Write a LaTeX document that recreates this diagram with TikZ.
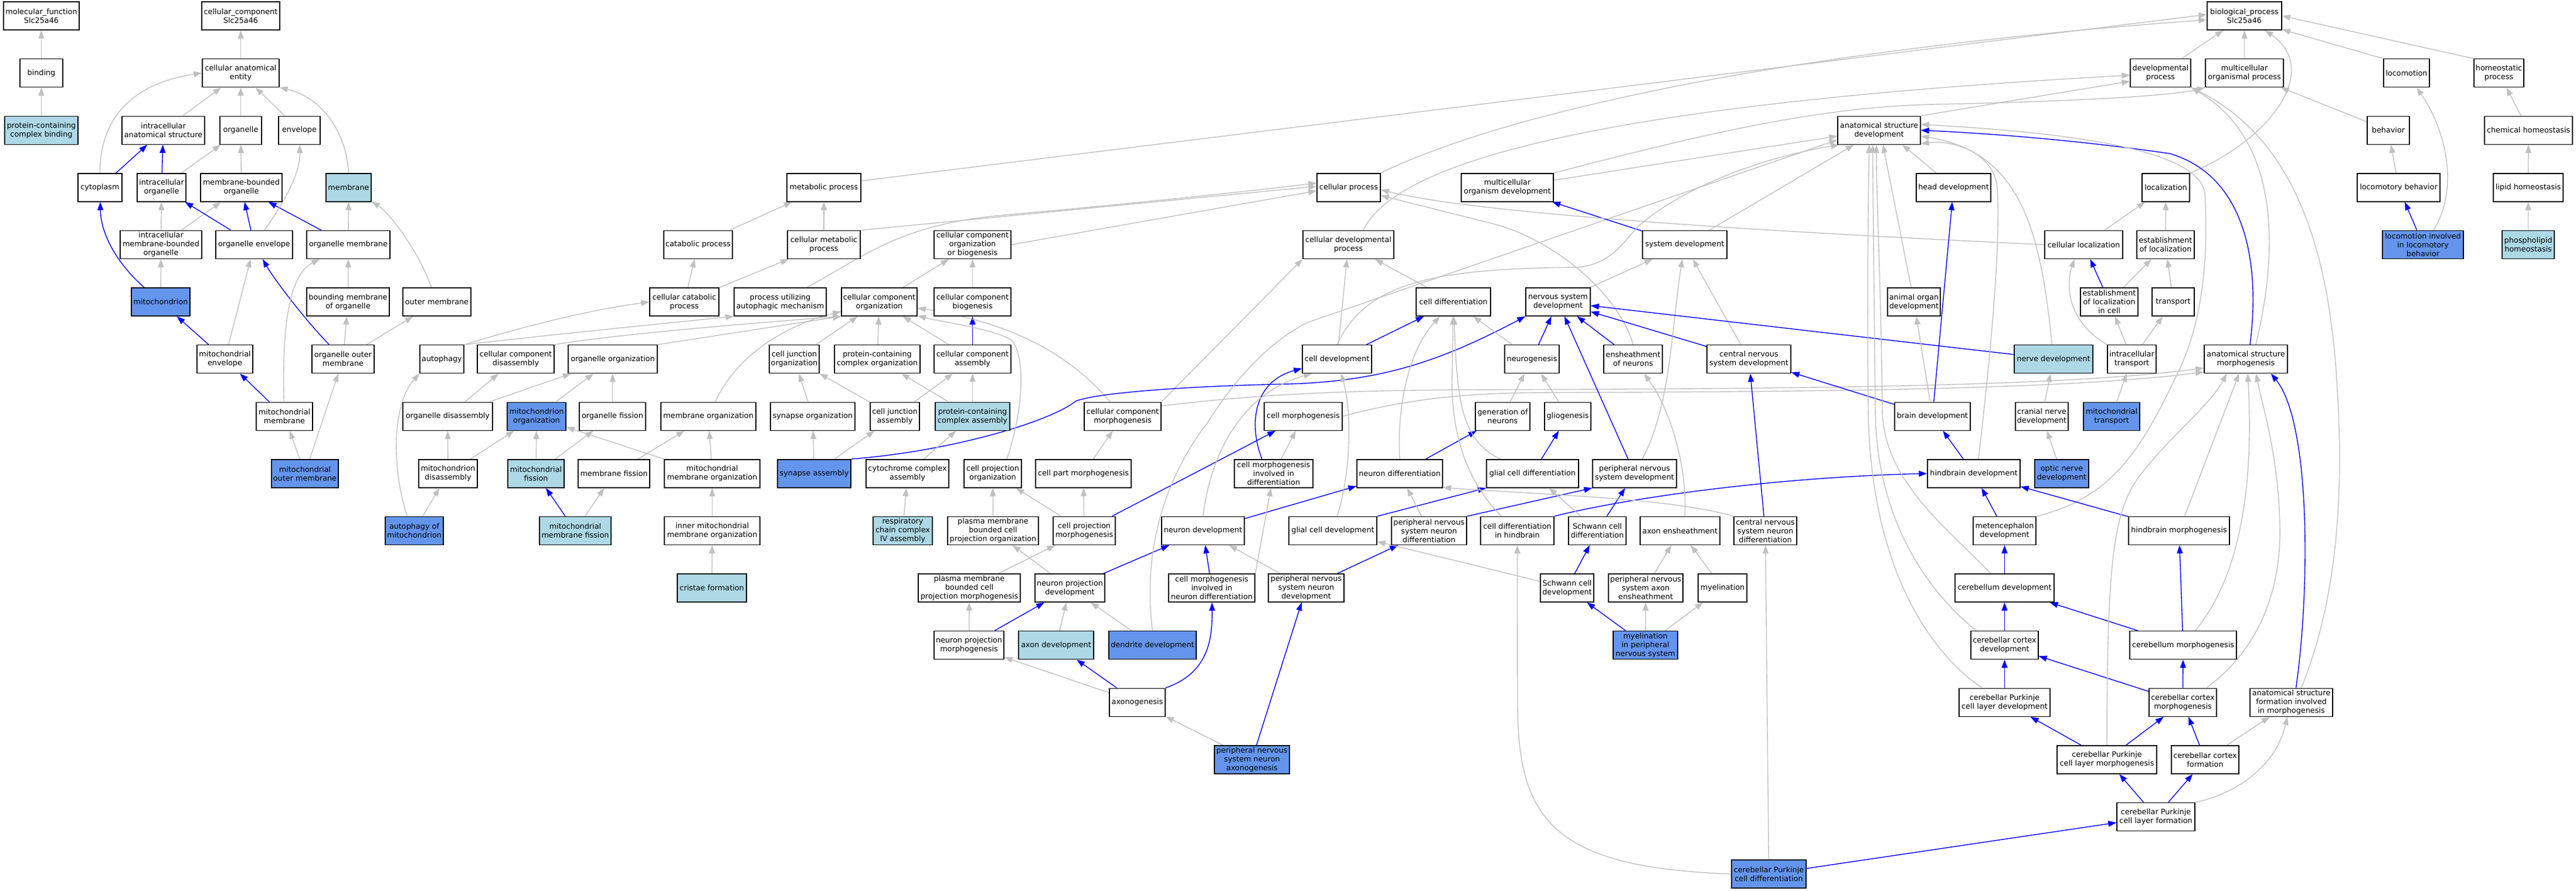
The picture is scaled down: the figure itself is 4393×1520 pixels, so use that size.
\documentclass[tikz,border=0pt]{standalone}
\usepackage{fontspec}
\setmainfont{DejaVu Sans}
\usetikzlibrary{arrows.meta,calc}
\definecolor{LB}{HTML}{ADD8E6}
\definecolor{CB}{HTML}{6495ED}
\definecolor{EG}{HTML}{C0C0C0}
\definecolor{EB}{HTML}{0000FF}
\newcommand{\gofont}{\fontsize{12.8}{15}\selectfont}
\pgfdeclarelayer{back}
\pgfdeclarelayer{edges}
\pgfsetlayers{back,edges,main}
\tikzset{
  box/.style={draw=black, line width=1.4pt, fill=white, minimum height=48pt, inner xsep=2pt, inner ysep=1pt, align=center, font=\gofont},
  lb/.style={fill=LB},
  cb/.style={fill=CB},
  ge/.style={draw=EG, line width=1.4pt, -{Triangle[length=14pt,width=10pt]}},
  be/.style={draw=EB, line width=1.4pt, -{Triangle[length=14pt,width=10pt]}}
}
\begin{document}
\begin{tikzpicture}[x=1pt,y=-1pt]
\useasboundingbox (0,0) rectangle (4393,1520);
\begin{pgfonlayer}{back}
\fill[white] (0,0) rectangle (4393,1520);
\end{pgfonlayer}
% row 0
\node[box,minimum width=129] (mf) at (70.5,27) {molecular\_function\\Slc25a46};
\node[box,minimum width=133] (cc) at (410.5,27) {cellular\_component\\Slc25a46};
\node[box,minimum width=127] (bp) at (3827.5,27) {biological\_process\\Slc25a46};
% row 1
\node[box,minimum width=73] (bind) at (70.5,124.6) {binding};
\node[box,minimum width=131] (cae) at (410.5,124.6) {cellular anatomical\\entity};
\node[box,minimum width=103] (devp) at (3684.5,124.6) {developmental\\process};
\node[box,minimum width=133] (mop) at (3827.5,124.6) {multicellular\\organismal process};
\node[box,minimum width=78] (loco) at (4104,124.6) {locomotion};
\node[box,minimum width=85] (homp) at (4261.5,124.6) {homeostatic\\process};
% row 2
\node[box,lb,minimum width=125] (pccb) at (70.5,222.2) {protein-containing\\complex binding};
\node[box,minimum width=141] (ias) at (278.5,222.2) {intracellular\\anatomical structure};
\node[box,minimum width=71] (org) at (410.5,222.2) {organelle};
\node[box,minimum width=71] (env) at (510.5,222.2) {envelope};
\node[box,minimum width=141] (asd) at (3204.5,222.2) {anatomical structure\\development};
\node[box,minimum width=72] (beh) at (4073,222.2) {behavior};
\node[box,minimum width=150] (chh) at (4312,222.2) {chemical homeostasis};
% row 3
\node[box,minimum width=75] (cyto) at (170.5,319.8) {cytoplasm};
\node[box,minimum width=83] (io) at (275.5,319.8) {intracellular\\organelle};
\node[box,minimum width=139] (mbo) at (411.5,319.8) {membrane-bounded\\organelle};
\node[box,lb,minimum width=77] (mem) at (594.5,319.8) {membrane};
\node[box,minimum width=126] (metp) at (1405,319.8) {metabolic process};
\node[box,minimum width=108] (cp) at (2300,319.8) {cellular process};
\node[box,minimum width=157] (mod) at (2570.5,319.8) {multicellular\\organism development};
\node[box,minimum width=127] (headd) at (3331.5,319.8) {head development};
\node[box,minimum width=81] (loc) at (3693.5,319.8) {localization};
\node[box,minimum width=141] (locb) at (4090.5,319.8) {locomotory behavior};
\node[box,minimum width=119] (liph) at (4311.5,319.8) {lipid homeostasis};
% row 4
\node[box,minimum width=139] (imbo) at (274.5,417.4) {intracellular\\membrane-bounded\\organelle};
\node[box,minimum width=131] (oenv) at (433.5,417.4) {organelle envelope};
\node[box,minimum width=142] (omem) at (594,417.4) {organelle membrane};
\node[box,minimum width=117] (catp) at (1190.5,417.4) {catabolic process};
\node[box,minimum width=124] (cmp) at (1405,417.4) {cellular metabolic\\process};
\node[box,minimum width=131] (ccob) at (1658.5,417.4) {cellular component\\organization\\or biogenesis};
\node[box,minimum width=155] (cdp) at (2299.5,417.4) {cellular developmental\\process};
\node[box,minimum width=144] (sysd) at (2873,417.4) {system development};
\node[box,minimum width=133] (cloc) at (3553.5,417.4) {cellular localization};
\node[box,minimum width=98] (eol) at (3693,417.4) {establishment\\of localization};
\node[box,cb,minimum width=138] (lilb) at (4132,417.4) {locomotion involved\\in locomotory\\behavior};
\node[box,lb,minimum width=89] (phh) at (4311.5,417.4) {phospholipid\\homeostasis};
% row 5
\node[box,cb,minimum width=100] (mito) at (274,515) {mitochondrion};
\node[box,minimum width=141] (bmo) at (593.5,515) {bounding membrane\\of organelle};
\node[box,minimum width=116] (outm) at (745,515) {outer membrane};
\node[box,minimum width=118] (ccp) at (1167,515) {cellular catabolic\\process};
\node[box,minimum width=157] (puam) at (1330.5,515) {process utilizing\\autophagic mechanism};
\node[box,minimum width=129] (cco) at (1499.5,515) {cellular component\\organization};
\node[box,minimum width=131] (ccb) at (1658.5,515) {cellular component\\biogenesis};
\node[box,minimum width=127] (cd) at (2478.5,515) {cell differentiation};
\node[box,minimum width=110] (nsd) at (2657,515) {nervous system\\development};
\node[box,minimum width=90] (aod) at (3264,515) {animal organ\\development};
\node[box,minimum width=98] (eolc) at (3597,515) {establishment\\of localization\\in cell};
\node[box,minimum width=72] (trans) at (3706,515) {transport};
% row 6
\node[box,minimum width=95] (menv) at (383.5,612.6) {mitochondrial\\envelope};
\node[box,minimum width=106] (oom) at (585,612.6) {organelle outer\\membrane};
\node[box,minimum width=75] (auto) at (753.5,612.6) {autophagy};
\node[box,minimum width=131] (ccd) at (879.5,612.6) {cellular component\\disassembly};
\node[box,minimum width=152] (oorg) at (1045,612.6) {organelle organization};
\node[box,minimum width=85] (cjo) at (1354.5,612.6) {cell junction\\organization};
\node[box,minimum width=146] (pcco) at (1496,612.6) {protein-containing\\complex organization};
\node[box,minimum width=131] (cca) at (1658.5,612.6) {cellular component\\assembly};
\node[box,minimum width=118] (celldev) at (2280,612.6) {cell development};
\node[box,minimum width=93] (neug) at (2612.5,612.6) {neurogenesis};
\node[box,minimum width=100] (eon) at (2785,612.6) {ensheathment\\of neurons};
\node[box,minimum width=143] (cnsd) at (2982.5,612.6) {central nervous\\system development};
\node[box,lb,minimum width=134] (nerved) at (3502,612.6) {nerve development};
\node[box,minimum width=83] (itr) at (3635.5,612.6) {intracellular\\transport};
\node[box,minimum width=142] (asm) at (3830,612.6) {anatomical structure\\morphogenesis};
% row 7
\node[box,minimum width=96] (mmem) at (485,710.2) {mitochondrial\\membrane};
\node[box,minimum width=153] (odis) at (763.5,710.2) {organelle disassembly};
\node[box,cb,minimum width=100] (morg) at (915,710.2) {mitochondrion\\organization};
\node[box,minimum width=113] (ofis) at (1044.5,710.2) {organelle fission};
\node[box,minimum width=162] (memo) at (1208,710.2) {membrane organization};
\node[box,minimum width=144] (syno) at (1386,710.2) {synapse organization};
\node[box,minimum width=84] (cja) at (1526,710.2) {cell junction\\assembly};
\node[box,lb,minimum width=127] (pcca) at (1658.5,710.2) {protein-containing\\complex assembly};
\node[box,minimum width=131] (ccm) at (1914.5,710.2) {cellular component\\morphogenesis};
\node[box,minimum width=133] (cm) at (2222.5,710.2) {cell morphogenesis};
\node[box,minimum width=93] (gon) at (2562.5,710.2) {generation of\\neurons};
\node[box,minimum width=79] (glio) at (2673.5,710.2) {gliogenesis};
\node[box,minimum width=129] (brd) at (3295.5,710.2) {brain development};
\node[box,minimum width=90] (cnd) at (3482,710.2) {cranial nerve\\development};
\node[box,cb,minimum width=96] (mtr) at (3601,710.2) {mitochondrial\\transport};
% row 8
\node[box,cb,minimum width=114] (mom) at (520,807.8) {mitochondrial\\outer membrane};
\node[box,minimum width=100] (mdis) at (764,807.8) {mitochondrion\\disassembly};
\node[box,lb,minimum width=96] (mfis) at (914,807.8) {mitochondrial\\fission};
\node[box,minimum width=122] (memf) at (1047,807.8) {membrane fission};
\node[box,minimum width=163] (mmo) at (1214.5,807.8) {mitochondrial\\membrane organization};
\node[box,cb,minimum width=125] (syna) at (1388.5,807.8) {synapse assembly};
\node[box,minimum width=141] (cyca) at (1547.5,807.8) {cytochrome complex\\assembly};
\node[box,minimum width=98] (cpo) at (1693,807.8) {cell projection\\organization};
\node[box,minimum width=163] (cpm) at (1847.5,807.8) {cell part morphogenesis};
\node[box,minimum width=134] (cmid) at (2172,807.8) {cell morphogenesis\\involved in\\differentiation};
\node[box,minimum width=146] (ndiff) at (2387,807.8) {neuron differentiation};
\node[box,minimum width=157] (gcd) at (2613.5,807.8) {glial cell differentiation};
\node[box,minimum width=143] (pnsd) at (2787.5,807.8) {peripheral nervous\\system development};
\node[box,minimum width=158] (hbd) at (3366,807.8) {hindbrain development};
\node[box,cb,minimum width=92] (ond) at (3516,807.8) {optic nerve\\development};
% row 9
\node[box,cb,minimum width=99] (aom) at (706.5,905.4) {autophagy of\\mitochondrion};
\node[box,lb,minimum width=122] (mmf) at (981,905.4) {mitochondrial\\membrane fission};
\node[box,minimum width=163] (immo) at (1214.5,905.4) {inner mitochondrial\\membrane organization};
\node[box,lb,minimum width=101] (rcc) at (1539.5,905.4) {respiratory\\chain complex\\IV assembly};
\node[box,minimum width=155] (pmbcpo) at (1693.5,905.4) {plasma membrane\\bounded cell\\projection organization};
\node[box,minimum width=106] (cprm) at (1849,905.4) {cell projection\\morphogenesis};
\node[box,minimum width=141] (nd) at (2051.5,905.4) {neuron development};
\node[box,minimum width=150] (gcdev) at (2273,905.4) {glial cell development};
\node[box,minimum width=128] (pnsndiff) at (2437,905.4) {peripheral nervous\\system neuron\\differentiation};
\node[box,minimum width=125] (cdh) at (2587.5,905.4) {cell differentiation\\in hindbrain};
\node[box,minimum width=98] (scd) at (2724,905.4) {Schwann cell\\differentiation};
\node[box,minimum width=136] (axe) at (2865,905.4) {axon ensheathment};
\node[box,minimum width=107] (cnsnd) at (3010.5,905.4) {central nervous\\system neuron\\differentiation};
\node[box,minimum width=107] (metd) at (3418.5,905.4) {metencephalon\\development};
\node[box,minimum width=172] (hbm) at (3716,905.4) {hindbrain morphogenesis};
% row 10
\node[box,lb,minimum width=118] (crf) at (1214,1003) {cristae formation};
\node[box,minimum width=174] (pmbcpm) at (1653,1003) {plasma membrane\\bounded cell\\projection morphogenesis};
\node[box,minimum width=119] (npd) at (1824.5,1003) {neuron projection\\development};
\node[box,minimum width=147] (cmind) at (2066.5,1003) {cell morphogenesis\\involved in\\neuron differentiation};
\node[box,minimum width=129] (pnsnd) at (2227.5,1003) {peripheral nervous\\system neuron\\development};
\node[box,minimum width=91] (scdev) at (2672.5,1003) {Schwann cell\\development};
\node[box,minimum width=127] (pnsae) at (2806.5,1003) {peripheral nervous\\system axon\\ensheathment};
\node[box,minimum width=83] (myel) at (2937.5,1003) {myelination};
\node[box,minimum width=169] (cbd) at (3418.5,1003) {cerebellum development};
% row 11
\node[box,minimum width=119] (npm) at (1652.5,1100.6) {neuron projection\\morphogenesis};
\node[box,lb,minimum width=128] (axd) at (1801,1100.6) {axon development};
\node[box,cb,minimum width=149] (dd) at (1965.5,1100.6) {dendrite development};
\node[box,cb,minimum width=110] (mpns) at (2806,1100.6) {myelination\\in peripheral\\nervous system};
\node[box,minimum width=115] (ccxd) at (3418.5,1100.6) {cerebellar cortex\\development};
\node[box,minimum width=182] (cbm) at (3723,1100.6) {cerebellum morphogenesis};
% row 12
\node[box,minimum width=95] (axg) at (1939.5,1198.2) {axonogenesis};
\node[box,minimum width=155] (cpld) at (3418.5,1198.2) {cerebellar Purkinje\\cell layer development};
\node[box,minimum width=115] (ccxm) at (3722.5,1198.2) {cerebellar cortex\\morphogenesis};
\node[box,minimum width=141] (asfim) at (3907.5,1198.2) {anatomical structure\\formation involved\\in morphogenesis};
% row 13
\node[box,cb,minimum width=128] (pnsax) at (2135,1295.8) {peripheral nervous\\system neuron\\axonogenesis};
\node[box,minimum width=170] (cplm) at (3593,1295.8) {cerebellar Purkinje\\cell layer morphogenesis};
\node[box,minimum width=115] (ccxf) at (3760.5,1295.8) {cerebellar cortex\\formation};
% row 14
\node[box,minimum width=133] (cplf) at (3676.5,1393.4) {cerebellar Purkinje\\cell layer formation};
% row 15
\node[box,cb,minimum width=127] (cpcd) at (3016.5,1491) {cerebellar Purkinje\\cell differentiation};

\begin{pgfonlayer}{edges}
% ---------- cellular component ----------
\draw[ge] (bind) -- (mf);
\draw[ge] (pccb) -- (bind);
\draw[ge] (cae) -- (cc);
\draw[ge] (ias) -- (cae);
\draw[ge] (org) -- (cae);
\draw[ge] (env) -- (cae);
\draw[ge] (mem.north) .. controls (590,220) and (545,165) .. (cae.south east);
\draw[ge] (cyto.north) .. controls (170,190) and (240,140) .. (cae.west);
\draw[be] (cyto) -- (ias);
\draw[be] (io) -- (ias);
\draw[ge] (io) -- (org);
\draw[ge] (mbo) -- (org);
\draw[ge] (imbo) -- (io);
\draw[ge] (imbo) -- (mbo);
\draw[be] (oenv) -- (io);
\draw[be] (oenv) -- (mbo);
\draw[be] (omem) -- (mbo);
\draw[ge] (oenv) .. controls (495,330) and (512,290) .. (env);
\draw[ge] (omem) -- (mem);
\draw[ge] (outm) .. controls (710,420) and (660,360) .. (mem);
\draw[be] (mito) .. controls (200,450) and (172,400) .. (cyto);
\draw[ge] (mito) -- (imbo);
\draw[ge] (bmo) -- (omem);
\draw[be] (menv) -- (mito);
\draw[ge] (menv) -- (oenv);
\draw[be] (oom) .. controls (520,545) and (470,480) .. (oenv);
\draw[ge] (oom) -- (bmo);
\draw[ge] (oom) -- (outm);
\draw[be] (mmem) -- (menv);
\draw[ge] (mmem) .. controls (480,530) and (500,465) .. (omem);
\draw[ge] (mom) -- (mmem);
\draw[ge] (mom) -- (oom);
\draw[ge] (auto.north east) .. controls (900,555) and (1000,530) .. (ccp.west);
\draw[ge] (auto.north east) .. controls (950,570) and (1150,550) .. (puam.south west);
\draw[ge] (ccd.north east) .. controls (1050,570) and (1300,550) .. (cco.south west);
\draw[ge] (oorg.north east) -- (cco.south west);
\draw[ge] (odis) -- (ccd);
\draw[ge] (odis) -- (oorg);
\draw[ge] (morg) -- (oorg);
\draw[ge] (ofis) -- (oorg);
\draw[ge] ($(aom.north)+(-12,0)$) .. controls (668,800) and (668,690) .. (auto.south west);
\draw[ge] (aom) -- (mdis);
\draw[ge] (mdis) -- (odis);
\draw[ge] (mdis) -- (morg);
\draw[ge] (mfis) -- (morg);
\draw[ge] (mfis) -- (ofis);
\draw[ge] (memf) -- (memo);
\draw[be] (mmf) -- (mfis);
\draw[ge] (mmf) -- (memf);
\draw[ge] (mmo.north west) -- (morg.-20);
\draw[ge] (mmo) -- (memo);
\draw[ge] (immo) -- (mmo);
\draw[ge] (crf) -- (immo);
% ---------- biological process, left ----------
\draw[ge] (metp.10) -- (bp.178);
\draw[ge] (catp) -- (metp);
\draw[ge] (cmp) -- (metp);
\draw[ge] (cmp.north east) -- (cp.178);
\draw[ge] (ccp) -- (catp);
\draw[ge] (ccp) -- (cmp);
\draw[ge] (puam) .. controls (1470,440) and (1530,385) .. (1700,368) .. controls (1900,350) and (2100,330) .. (cp.172);
\draw[ge] (ccob.east) -- (cp.186);
\draw[ge] (cco) -- (ccob);
\draw[ge] (ccb) -- (ccob);
\draw[ge] (cjo) -- (cco);
\draw[ge] (pcco) -- (cco);
\draw[ge] (cca) -- (cco);
\draw[be] (cca) -- (ccb);
\draw[ge] (memo) .. controls (1250,620) and (1320,560) .. (cco);
\draw[ge] (syno) -- (cjo);
\draw[ge] (cja) -- (cjo);
\draw[ge] (cja) -- (cca);
\draw[ge] (pcca) -- (pcco);
\draw[ge] (pcca) -- (cca);
\draw[ge] (ccm) .. controls (1820,600) and (1720,550) .. (cco);
\draw[ge] (ccm.north east) -- (cdp.south west);
\draw[ge] (ccm.15) .. controls (2150,672) and (2300,666) .. (2500,665) .. controls (3000,663) and (3500,662) .. (asm.192);
\draw[ge] (cm.east) .. controls (2400,680) and (2500,672) .. (2600,670) .. controls (3000,668) and (3500,668) .. (asm.197);
\draw[ge] (syna) -- (syno);
\draw[ge] (syna) -- (cja);
\draw[be] (syna.north east) .. controls (1620,770) and (1790,720) .. (1835,684) .. controls (1880,668) and (2050,658) .. (2200,655) .. controls (2350,650) and (2450,620) .. (nsd.south west);
\draw[ge] (cyca) -- (pcca);
\draw[ge] ($(cpo.north)+(24,0)$) .. controls (1745,700) and (1750,610) .. (1725,580) .. controls (1690,560) and (1610,550) .. (cco.-20);
\draw[ge] (cpm) -- (ccm);
\draw[be] ($(cmid.north)+(-20,0)$) .. controls (2128,720) and (2140,650) .. (celldev.195);
\draw[ge] (cmid) -- (cm);
\draw[ge] (rcc) -- (cyca);
\draw[ge] (pmbcpo) -- (cpo);
\draw[ge] (cprm) -- (cpo);
\draw[ge] (cprm) -- (cpm);
\draw[be] (cprm) -- (cm);
\draw[be] (nd) -- (ndiff);
\draw[ge] (nd.north) .. controls (2065,770) and (2120,670) .. (celldev.210);
\draw[ge] (pmbcpm) -- (cprm);
\draw[ge] (npd) -- (pmbcpo);
\draw[be] (npd) -- (nd);
\draw[be] (cmind) -- (nd);
\draw[ge] (cmind.north east) -- (cmid);
\draw[ge] (pnsnd) -- (nd);
\draw[be] (pnsnd) -- (pnsndiff);
\draw[ge] (npm) -- (pmbcpm);
\draw[be] (npm) -- (npd);
\draw[ge] (axd) -- (npd);
\draw[ge] (dd) -- (npd);
\draw[ge] (dd.north) .. controls (1950,960) and (1975,830) .. (2060,720) .. controls (2110,640) and (2170,580) .. (2230,550) -- (asd.193);
\draw[be] (axg) -- (axd);
\draw[ge] (axg) -- (npm);
\draw[be] (axg.north east) .. controls (2055,1150) and (2068,1100) .. (cmind);
\draw[ge] (pnsax) -- (axg);
\draw[be] (pnsax) -- (pnsnd);
% ---------- biological process, middle ----------
\draw[ge] (cp.north east) .. controls (2550,200) and (3000,90) .. (bp.186);
\draw[ge] (mod) -- (asd.188);
\draw[ge] (mod.north east) .. controls (2900,230) and (3100,182) .. (3300,178) .. controls (3500,174) and (3700,165) .. (mop.south west);
\draw[ge] ($(cdp.north)+(25,0)$) .. controls (2380,280) and (2700,180) .. (devp.184);
\draw[ge] (sysd) -- (asd.-150);
\draw[be] (sysd) -- (mod);
\draw[ge] (cd) -- (cdp);
\draw[ge] (nsd) -- (sysd);
\draw[be] (celldev) -- (cd);
\draw[ge] (celldev) -- (cdp);
\draw[ge] (celldev.north) .. controls (2330,480) and (2450,458) .. (2691,456) .. controls (2750,450) and (2770,410) .. (2795,385) .. controls (2870,320) and (3000,270) .. (asd.200);
\draw[ge] (neug) -- (cd);
\draw[be] (neug) -- (nsd);
\draw[be] (eon) -- (nsd);
\draw[ge] (eon.north) .. controls (2760,500) and (2650,410) .. (2551,383) .. controls (2480,365) and (2400,345) .. (cp.-14);
\draw[be] (cnsd) -- (nsd);
\draw[ge] (cnsd) -- (sysd);
\draw[ge] (gon) -- (neug);
\draw[ge] (glio) -- (neug);
\draw[be] (ndiff) -- (gon);
\draw[ge] (ndiff.north) .. controls (2382,700) and (2400,600) .. (cd);
\draw[be] (gcd) -- (glio);
\draw[ge] ($(gcd.north)+(-55,0)$) .. controls (2490,750) and (2485,680) .. (cd);
\draw[be] (pnsd) -- (nsd);
\draw[ge] (pnsd) .. controls (2850,690) and (2850,560) .. (sysd);
\draw[be] (gcdev.north east) -- (gcd.south west);
\draw[ge] (gcdev) .. controls (2305,800) and (2305,700) .. (celldev);
\draw[ge] (pnsndiff) -- (ndiff);
\draw[be] (pnsndiff.north east) -- (pnsd.south west);
\draw[ge] ($(cdh.north)+(-27,0)$) .. controls (2500,820) and (2476,740) .. (2476,650) -- (cd);
\draw[be] (cdh.north east) .. controls (2750,855) and (3000,815) .. (hbd.west);
\draw[ge] (scd) -- (gcd);
\draw[be] (scd) -- (pnsd);
\draw[ge] ($(axe.north)+(8,0)$) .. controls (2878,800) and (2850,700) .. (eon);
\draw[ge] (cnsnd.north west) .. controls (2850,850) and (2650,845) .. (ndiff.-18);
\draw[be] (cnsnd) -- (cnsd);
\draw[be] (scdev) -- (scd);
\draw[ge] (scdev) -- (gcdev);
\draw[ge] (pnsae) -- (axe);
\draw[ge] (myel) -- (axe);
\draw[be] (mpns) -- (scdev);
\draw[ge] (mpns) -- (pnsae);
\draw[ge] (mpns) -- (myel);
\draw[ge] (cpcd) -- (cnsnd);
\draw[ge] (cpcd.west) .. controls (2650,1480) and (2588,1400) .. (2588,1200) -- (cdh);
\draw[be] (cpcd) -- (cplf);
% ---------- biological process, right ----------
\draw[ge] (devp) -- (bp);
\draw[ge] (mop) -- (bp);
\draw[ge] (loco.north west) -- (bp.-20);
\draw[ge] (homp.north west) -- (bp.east);
\draw[ge] (beh) -- (mop);
\draw[ge] (chh) -- (homp);
\draw[ge] (asd.north east) -- (devp.195);
\draw[ge] (headd) -- (asd.-32);
\draw[ge] (loc.north east) .. controls (3870,240) and (3960,120) .. (bp);
\draw[ge] (locb) -- (beh);
\draw[ge] (liph) -- (chh);
\draw[ge] (cloc) -- (loc);
\draw[ge] (cloc.west) .. controls (2900,390) and (2500,360) .. (cp.-4);
\draw[ge] (eol) -- (loc);
\draw[be] (lilb) -- (locb);
\draw[ge] ($(lilb.north)+(18,0)$) .. controls (4195,320) and (4170,220) .. (loco);
\draw[ge] (phh) -- (liph);
\draw[ge] (aod) -- (asd.-75);
\draw[be] (eolc) -- (cloc);
\draw[ge] (eolc) -- (eol);
\draw[ge] (trans) -- (eol);
\draw[be] (nerved) -- (nsd);
\draw[ge] (nerved) .. controls (3480,400) and (3450,260) .. (asd.-8);
\draw[ge] (itr.north west) .. controls (3520,545) and (3525,480) .. (cloc.-123);
\draw[ge] (itr) -- (eolc);
\draw[ge] (itr) -- (trans);
\draw[be] ($(asm.north)+(7,0)$) .. controls (3855,450) and (3830,300) .. (3700,262) .. controls (3550,240) and (3400,228) .. (asd.east);
\draw[ge] ($(asm.north)+(17,0)$) .. controls (3885,430) and (3890,240) .. (devp.south east);
\draw[be] (brd) -- (headd);
\draw[be] (brd) -- (cnsd);
\draw[ge] (brd) -- (aod);
\draw[ge] (cnd) -- (nerved);
\draw[ge] (mtr) -- (itr);
\draw[be] (hbd) -- (brd);
\draw[ge] ($(hbd.north)+(8,0)$) .. controls (3395,600) and (3412,420) .. (3406,320) .. controls (3400,260) and (3330,238) .. (asd.-18);
\draw[ge] (ond) -- (cnd);
\draw[be] (metd) -- (hbd);
\draw[ge] (metd.north east) .. controls (3600,850) and (3650,770) .. (3712,640) .. controls (3762,540) and (3765,420) .. (3760,330) .. controls (3750,250) and (3500,225) .. (asd.8);
\draw[be] (hbm) -- (hbd);
\draw[ge] (hbm) -- (asm.-115);
\draw[be] (cbd) -- (metd);
\draw[ge] (cbd) .. controls (3320,900) and (3212,820) .. (3210,700) .. controls (3208,500) and (3200,330) .. (asd.-101);
\draw[be] (ccxd) -- (cbd);
\draw[ge] ($(ccxd.north west)+(10,0)$) .. controls (3300,1020) and (3200,900) .. (3198,700) .. controls (3196,500) and (3194,330) .. (asd.-114);
\draw[be] (cbm) -- (hbm);
\draw[be] (cbm) -- (cbd);
\draw[ge] (cbm) .. controls (3840,960) and (3840,760) .. (asm.-83);
\draw[be] (cpld) -- (ccxd);
\draw[ge] ($(cpld.north west)+(40,0)$) .. controls (3300,1120) and (3190,980) .. (3186,700) .. controls (3184,500) and (3186,330) .. (asd.-124);
\draw[be] (ccxm) -- (cbm);
\draw[be] (ccxm) -- (ccxd);
\draw[ge] ($(ccxm.north)+(40,0)$) .. controls (3850,1110) and (3890,1010) .. (3888,900) .. controls (3886,780) and (3860,700) .. (asm.-55);
\draw[be] ($(asfim.north)+(8,0)$) .. controls (3940,1000) and (3940,720) .. (asm.-30);
\draw[ge] ($(asfim.north)+(17,0)$) .. controls (3995,1000) and (3995,800) .. (3985,650) .. controls (3970,400) and (3900,230) .. (devp.south east);
\draw[be] (cplm) -- (cpld);
\draw[be] (cplm) -- (ccxm);
\draw[ge] (cplm.north) .. controls (3593,950) and (3605,870) .. (3650,810) .. controls (3700,745) and (3770,690) .. (asm.-143);
\draw[be] (ccxf) -- (ccxm);
\draw[ge] (ccxf) -- (asfim);
\draw[be] (cplf) -- (cplm);
\draw[be] (cplf) -- (ccxf);
\draw[ge] (cplf.north east) .. controls (3810,1355) and (3880,1310) .. (asfim.-105);
\end{pgfonlayer}
\end{tikzpicture}
\end{document}
